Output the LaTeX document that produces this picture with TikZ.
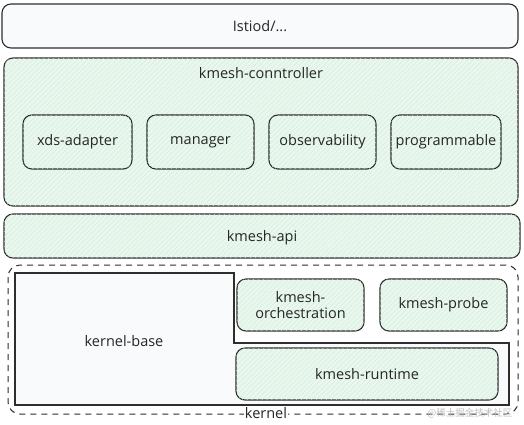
\documentclass[tikz,border=0pt]{standalone}
\usepackage{fontspec}
\setmainfont{Open Sans}
\newfontfamily\cjkfont{Noto Sans CJK SC}
\usetikzlibrary{patterns.meta}
\definecolor{edge}{HTML}{2E2E2E}
\definecolor{paper}{HTML}{F9FAFC}
\definecolor{mint}{HTML}{E9F7EE}
\definecolor{hatch}{HTML}{CDEBD6}
\tikzset{
  plainbox/.style={draw=edge, line width=1.1pt, rounded corners=9pt, fill=paper},
  greenbox/.style={draw=edge, line width=1.1pt, rounded corners=9pt, fill=mint,
    postaction={pattern={Lines[angle=45,distance=3.5pt,line width=0.35pt]}, pattern color=hatch}},
  lbl/.style={font=\fontsize{14.5}{15.5}\selectfont, text=black!85, align=center},
}
\begin{document}
\begin{tikzpicture}[x=1pt,y=-1pt]
\useasboundingbox[fill=white] (0,0) rectangle (524,424);
% Istiod
\draw[plainbox] (2,4) rectangle (518,48);
\node[lbl] (istiod) at (260,26) {Istiod/...};
% controller
\draw[greenbox] (4,58) rectangle (518,206);
\node[lbl] (ctrl) at (261,73) {kmesh-conntroller};
\draw[greenbox] (23,115) rectangle (132,169);
\node[lbl] (xds) at (77.5,142) {xds-adapter};
\draw[greenbox] (147,115) rectangle (254,169);
\node[lbl] (mgr) at (200.5,142) {manager};
\draw[greenbox] (269,115) rectangle (376,169);
\node[lbl] (obs) at (322.5,142) {observability};
\draw[greenbox] (391,115) rectangle (501,169);
\node[lbl] (prog) at (446,142) {programmable};
% api
\draw[greenbox] (4,214) rectangle (520,258);
\node[lbl] (api) at (262,238) {kmesh-api};
% kernel dashed
\draw[edge, line width=1pt, dash pattern=on 6pt off 5pt, rounded corners=12pt] (8,265) rectangle (518,414);
% kernel-base
\draw[edge, line width=1.3pt, fill=paper] (15,273) -- (234,273) -- (234,343) -- (509,343) -- (509,405) -- (15,405) -- cycle;
\node[lbl] (base) at (124,341) {kernel-base};
\draw[greenbox] (237,279) rectangle (364,331);
\node[lbl, text width=125pt] (orch) at (300.5,305) {kmesh-\\orchestration};
\draw[greenbox] (380,279) rectangle (507,331);
\node[lbl] (probe) at (443.5,305) {kmesh-probe};
\draw[greenbox] (236,348) rectangle (498,400);
\node[lbl] (rt) at (367,374) {kmesh-runtime};
\node[lbl, fill=white, inner sep=1pt] (kern) at (266,413) {kernel};
\node[font=\cjkfont\fontsize{9.5}{10}\selectfont, text=black!25, anchor=east] (wm) at (516,413) {@稀土掘金技术社区};
\end{tikzpicture}
\end{document}
